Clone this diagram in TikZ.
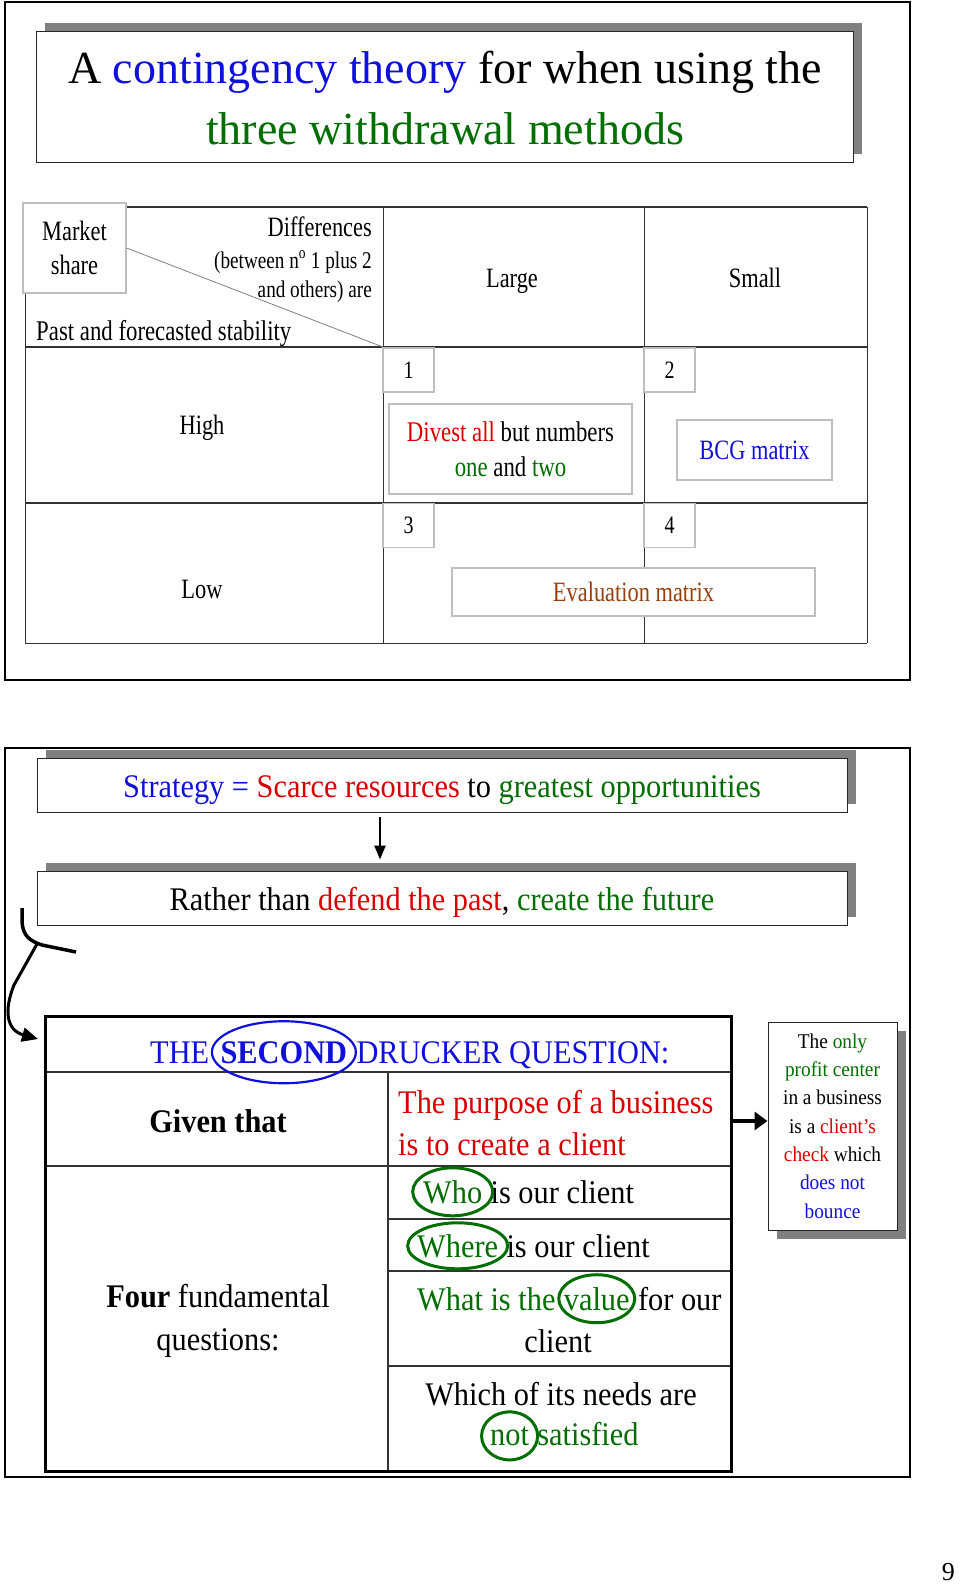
\documentclass[tikz,border=0pt]{standalone}
\usepackage{fontspec}
\setmainfont{Liberation Serif}
\newfontfamily\condfont{Liberation Serif}[FakeStretch=0.92]
\newfontfamily\narrowfont{Liberation Serif}[FakeStretch=0.8]
\usepackage{xcolor}
\usetikzlibrary{arrows.meta, shadows}
\usetikzlibrary{positioning}

\definecolor{tblue}{RGB}{16,16,220}
\definecolor{tred}{RGB}{215,0,0}
\definecolor{tgreen}{RGB}{0,110,0}
\definecolor{tbrown}{RGB}{150,64,16}
\definecolor{shade}{RGB}{128,128,128}
\definecolor{cellgray}{RGB}{190,190,190}
\newcommand{\fsize}[2]{\fontsize{#1}{#2}\selectfont}

\begin{document}
\begin{tikzpicture}[x=1pt, y=-1pt,
		txt/.style={anchor=base, inner sep=0pt},
		frame/.style={draw, line width=1.6pt},
		shbox/.style={draw=black!85, fill=white, line width=1pt, inner sep=0pt,
			general shadow={fill=shade, shadow xshift=9pt, shadow yshift=8pt}},
		cell/.style={draw=cellgray, fill=white, line width=1.2pt, inner sep=0pt},
		grid/.style={black!80, line width=1pt},
		ring/.style={tgreen, line width=3pt}]
		\useasboundingbox[fill=white] (0,0) rectangle (960,1585);
		\begin{scope}
			\draw[frame] (5,2) rectangle (910,680);
			\node[shbox, minimum width=817pt, minimum height=131pt] (title) at (444.5,96.5) {};
			\node[txt] (title1) at (445,83) {\fsize{46}{50}A \textcolor{tblue}{contingency theory} for when using the};
			\node[txt] (title2) at (445,144) {\fsize{46}{50}\textcolor{tgreen}{three withdrawal methods}};
		\end{scope}
		\begin{scope}[font=\narrowfont\fsize{28}{34}]
			\draw[grid, line width=1.8pt] (25,207) -- (867,207) (25,347) -- (867,347) (25,503) -- (867,503);
			\draw[grid] (25,643) -- (867,643);
			\foreach \x in {25,383,644,867}
				\draw[grid] (\x,207) -- (\x,643);
			\node[cell, minimum width=103pt, minimum height=90pt, align=center] (share) at (74.5,248) {Market\\share};
			\coordinate (corner) at (383,347);
			\draw[gray, line width=0.8pt] (share.east) -- (corner);
			\node[txt, anchor=base east] (diff) at (372,236) {Differences};
			\node[txt, anchor=base east, font=\narrowfont\fsize{24}{26}] (betw) at (372,268) {(between n\textsuperscript{o} 1 plus 2};
			\node[txt, anchor=base east, font=\narrowfont\fsize{24}{26}] (others) at (372,297) {and others) are};
			\node[txt, anchor=base west, font=\narrowfont\fsize{28.5}{34}] (stab) at (36,340) {Past and forecasted stability};
			\node[txt] (large) at (512,287) {Large};
			\node[txt] (small) at (755,287) {Small};
			\node[txt] (high) at (202,434) {High};
			\node[txt] (low) at (202,598) {Low};
			\foreach \n/\x/\y in {1/408.5/370, 2/669.5/370, 3/408.5/525.5, 4/669.5/525.5}
				\node[cell, minimum width=51pt, minimum height=44pt, font=\narrowfont\fsize{25}{25}] (num\n) at (\x,\y) {\n};
			\node[cell, minimum width=243pt, minimum height=90pt, align=center, font=\narrowfont\fsize{28.5}{35}] (divest) at (510.5,449)
				{\textcolor{tred}{Divest all} but numbers\\\textcolor{tgreen}{one} and \textcolor{tgreen}{two}};
			\node[cell, minimum width=155pt, minimum height=60pt, text=tblue] (bcg) at (754.5,450) {BCG matrix};
			\node[cell, minimum width=363pt, minimum height=48pt, text=tbrown] (eval) at (633.5,592) {Evaluation matrix};
		\end{scope}
		\begin{scope}[font=\condfont\fsize{33}{36}]
			\draw[frame] (5,748) rectangle (910,1477);
			\node[shbox, minimum width=810pt, minimum height=54pt] (strat) at (442,785) {};
			\node[txt] (strattxt) at (442,797) {\textcolor{tblue}{Strategy =} \textcolor{tred}{Scarce resources} to \textcolor{tgreen}{greatest opportunities}};
			\node[shbox, minimum width=810pt, minimum height=54pt] (rather) at (442,898) {};
			\node[txt] (rathertxt) at (442,910) {Rather than \textcolor{tred}{defend the past}, \textcolor{tgreen}{create the future}};
			\draw[-{Triangle[length=14pt,width=11pt]}, line width=2.5pt, shorten <=4pt, shorten >=11pt]
				([xshift=-62pt]strat.south) -- ([xshift=-62pt]rather.north);
			\coordinate (hook) at (22,908);
			\coordinate (hookend) at (76,952);
			\coordinate (fork) at (37,944);
			\coordinate (target) at (38,1039);
			\draw[line width=3.5pt] (hook) -- (22,922) .. controls (23,936) and (30,941) .. (42,945) -- (hookend);
			\draw[line width=3pt, -{Triangle[length=16pt,width=14pt]}] (fork) -- (14,985) .. controls (4,1010) and (6,1030) .. (target);
			\draw[grid, line width=2pt] (45,1072) -- (731,1072) (45,1166) -- (731,1166) (388,1072) -- (388,1471);
			\foreach \y in {1219,1271,1366}
				\draw[grid, line width=2pt] (388,\y) -- (731,\y);
			\node[draw, line width=3pt, minimum width=686pt, minimum height=455pt, inner sep=0pt] (dq) at (388,1243.5) {};
			\node[txt, anchor=base west, text=tblue] (the) at (150,1063) {THE};
			\node[txt, anchor=base west, text=tblue, font=\condfont\bfseries\fsize{33}{36}] (second) at ([xshift=11pt]the.base east) {SECOND};
			\node[txt, anchor=base west, text=tblue] (drucker) at ([xshift=9pt]second.base east) {DRUCKER QUESTION:};
			\draw[tblue, line width=2.2pt] (second.center) ellipse [x radius=72, y radius=31];
			\node[txt, font=\condfont\bfseries\fsize{33}{36}] (given) at (218,1132) {Given that};
			\node[txt, anchor=base west, text=tred] (purp1) at (398,1113) {The purpose of a business};
			\node[txt, anchor=base west, text=tred] (purp2) at (398,1155) {is to create a client};
			\node[txt] (four1) at (218,1307) {\textbf{Four} fundamental};
			\node[txt] (four2) at (218,1350) {questions:};
			\node[txt, anchor=base west, text=tgreen] (who) at (423,1203) {Who};
			\node[txt, anchor=base west] (whorest) at ([xshift=8pt]who.base east) {is our client};
			\draw[ring] (who.center) ellipse [x radius=40, y radius=24];
			\node[txt, anchor=base west, text=tgreen] (where) at (417,1257) {Where};
			\node[txt, anchor=base west] (whererest) at ([xshift=8pt]where.base east) {is our client};
			\draw[ring] (where.center) ellipse [x radius=50, y radius=23];
			\node[txt, anchor=base west, text=tgreen] (what) at (417,1310) {What is the};
			\node[txt, anchor=base west, text=tgreen] (value) at ([xshift=8pt]what.base east) {value};
			\node[txt, anchor=base west] (forour) at ([xshift=8pt]value.base east) {for our};
			\draw[ring] (value.center) ellipse [x radius=38, y radius=24];
			\node[txt] (client) at (558,1352) {client};
			\node[txt] (needs) at (561,1405) {Which of its needs are};
			\node[txt, anchor=base west, text=tgreen] (not) at (490,1445) {not};
			\node[txt, anchor=base west, text=tgreen] (satisfied) at ([xshift=8pt]not.base east) {satisfied};
			\draw[ring] (not.center) ellipse [x radius=28, y radius=24];
			\node[draw=black!85, fill=white, line width=1pt, minimum width=129pt, minimum height=208pt, align=center,
				font=\condfont\fsize{21}{28.3},
				general shadow={fill=shade, shadow xshift=9pt, shadow yshift=-9pt}] (side) at (832.5,1126)
				{The \textcolor{tgreen}{only}\\\textcolor{tgreen}{profit center}\\in a business\\is a \textcolor{tred}{client’s}\\\textcolor{tred}{check} which\\\textcolor{tblue}{does not}\\\textcolor{tblue}{bounce}};
			\coordinate (sidein) at ([yshift=5pt]side.west);
			\draw[line width=4pt, -{Triangle[length=13pt,width=18pt]}] (dq.east |- sidein) -- (sidein);
		\end{scope}
		\node[txt, anchor=base east, font=\fsize{26}{26}] (pg) at (955,1580) {9};
	\end{tikzpicture}
\end{document}
